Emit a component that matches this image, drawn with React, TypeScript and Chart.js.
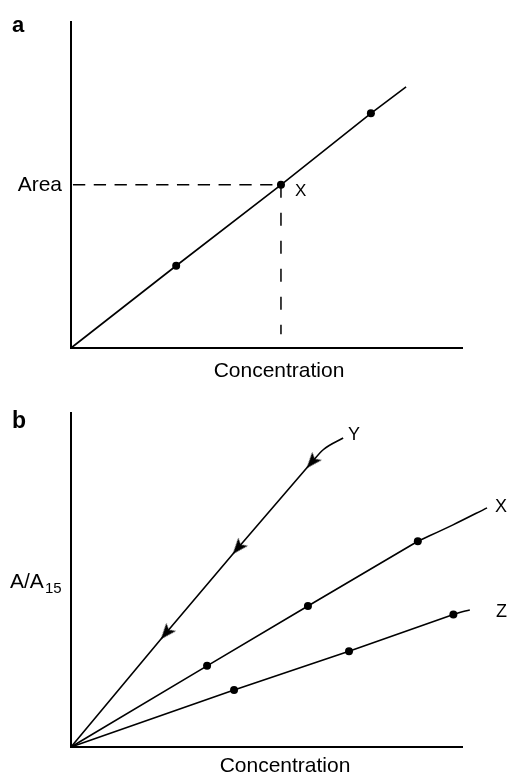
import React, { useEffect, useRef } from 'react';
import { Chart, registerables } from 'chart.js';

Chart.register(...registerables);

const FONT = "'Liberation Sans', Arial, Helvetica, sans-serif";

// ---------- Panel a: calibration line ----------
const calibConc = [0, 26.9, 53.7, 76.7, 85.7];
const calibArea = [0, 25.2, 50.0, 71.9, 80.0];
const calibHasDot = [false, true, true, true, false];
const sampleConc = 53.7;
const sampleArea = 50.0;
const sampleDashStart = 0.5;
const sampleDashFloor = 4.2;
const areaTickLabel = 'Area';
const sampleLabel = 'X';
const xAxisTitle = 'Concentration';

// ---------- Panel b: relative response lines ----------
const yLineConc = [0, 24.3, 42.7, 61.6];
const yLineResp = [0, 34.1, 59.6, 85.3];
const yTailConc = [61.6, 64.5, 69.6];
const yTailResp = [85.3, 89.0, 92.5];

const xLineConc = [0, 34.8, 60.6, 88.7];
const xLineResp = [0, 24.3, 42.2, 61.6];
const xTailConc = [88.7, 97.7, 106.4];
const xTailResp = [61.6, 66.5, 71.6];

const zLineConc = [0, 41.7, 71.1, 97.8];
const zLineResp = [0, 17.1, 28.7, 39.7];
const zTailConc = [97.8, 102.0, 106.1];
const zTailResp = [39.7, 41.0, 41.4];

const seriesNames = ['Y', 'X', 'Z'];
const yAxisMain = 'A/A';
const yAxisSub = '15';

const pts = (xs: number[], ys: number[]) => xs.map((x, i) => ({ x, y: ys[i] }));

type TextItem = {
  text: string;
  x: number | ((c: any) => number);
  y: number | ((c: any) => number);
  font: string;
  align?: CanvasTextAlign;
};

const textPlugin = (items: TextItem[]) => ({
  id: 'texts',
  afterDraw(chart: any) {
    const ctx = chart.ctx as CanvasRenderingContext2D;
    ctx.save();
    ctx.fillStyle = '#000';
    ctx.textBaseline = 'alphabetic';
    for (const it of items) {
      ctx.font = it.font;
      ctx.textAlign = it.align || 'left';
      const x = typeof it.x === 'function' ? it.x(chart) : it.x;
      const y = typeof it.y === 'function' ? it.y(chart) : it.y;
      ctx.fillText(it.text, x, y);
    }
    ctx.restore();
  },
});

const axisX = () => ({
  type: 'linear' as const,
  min: 0,
  max: 100,
  grid: { display: false, drawTicks: false },
  ticks: { display: false },
  border: { display: true, color: '#000', width: 2 },
  afterFit: (s: any) => {
    s.height = 0;
  },
});

const axisY = (tickValue?: number, tickLabel?: string) => ({
  type: 'linear' as const,
  min: 0,
  max: 100,
  grid: { display: false, drawTicks: false },
  ticks:
    tickValue === undefined
      ? { display: false }
      : {
          display: true,
          padding: 9,
          color: '#000',
          autoSkip: false,
          font: { family: FONT, size: 21 },
          callback: () => tickLabel,
        },
  afterBuildTicks: (s: any) => {
    if (tickValue !== undefined) s.ticks = [{ value: tickValue }];
  },
  border: { display: true, color: '#000', width: 2 },
  afterFit: (s: any) => {
    s.width = 71;
  },
});

// barbed arrowhead used as the point style for series Y (apex pointing up before rotation)
const makeArrowHead = () => {
  const c = document.createElement('canvas');
  c.width = 18;
  c.height = 18;
  const g = c.getContext('2d') as CanvasRenderingContext2D;
  g.fillStyle = '#000';
  g.beginPath();
  g.moveTo(9, 1);
  g.lineTo(15.2, 17);
  g.lineTo(9, 13.2);
  g.lineTo(2.8, 17);
  g.closePath();
  g.fill();
  return c;
};

const arrowRotation = (ctx: any) => {
  const chart = ctx.chart;
  const raw = ctx.raw;
  if (!raw || !chart.scales || !chart.scales.x) return 0;
  const sx = chart.scales.x;
  const sy = chart.scales.y;
  const dx = sx.getPixelForValue(0) - sx.getPixelForValue(raw.x);
  const dy = sy.getPixelForValue(0) - sy.getPixelForValue(raw.y);
  return (Math.atan2(dx, -dy) * 180) / Math.PI;
};

const baseOptions = (padding: any, scales: any) => ({
  responsive: false,
  animation: false as const,
  events: [] as any[],
  layout: { padding },
  plugins: { legend: { display: false }, tooltip: { enabled: false }, title: { display: false } },
  scales,
});

export default function App() {
  const refA = useRef<HTMLCanvasElement>(null);
  const refB = useRef<HTMLCanvasElement>(null);

  useEffect(() => {
    Chart.defaults.font.family = FONT;
    Chart.defaults.color = '#000';

    const chartA = new Chart(refA.current as HTMLCanvasElement, {
      type: 'line',
      data: {
        datasets: [
          {
            data: pts(calibConc, calibArea),
            borderColor: '#000',
            backgroundColor: '#000',
            borderWidth: 1.6,
            pointRadius: calibHasDot.map((d) => (d ? 4 : 0)),
            pointBorderWidth: 0,
            tension: 0,
            clip: false as any,
          },
          {
            data: [
              { x: sampleDashStart, y: sampleArea },
              { x: sampleConc, y: sampleArea },
            ],
            borderColor: '#000',
            borderWidth: 1.5,
            borderDash: [12.3, 8.5],
            pointRadius: 0,
            clip: false as any,
          },
          {
            data: [
              { x: sampleConc, y: sampleArea },
              { x: sampleConc, y: sampleDashFloor },
            ],
            borderColor: '#000',
            borderWidth: 1.5,
            borderDash: [13, 15],
            pointRadius: 0,
            clip: false as any,
          },
        ],
      },
      options: baseOptions(
        { left: 0, right: 46, top: 14, bottom: 42 },
        { x: axisX(), y: axisY(sampleArea, areaTickLabel) }
      ) as any,
      plugins: [
        textPlugin([
          { text: 'a', x: 12, y: 32, font: `bold 22px ${FONT}` },
          { text: xAxisTitle, x: 279, y: 377, font: `21px ${FONT}`, align: 'center' },
          {
            text: sampleLabel,
            x: (c) => c.scales.x.getPixelForValue(sampleConc) + 14,
            y: (c) => c.scales.y.getPixelForValue(sampleArea) + 11,
            font: `17px ${FONT}`,
          },
        ]),
      ],
    });

    const arrowHead = makeArrowHead();

    const lineDs = (xs: number[], ys: number[], style: 'circle' | 'arrow') => ({
      data: pts(xs, ys),
      borderColor: '#000',
      backgroundColor: '#000',
      borderWidth: 1.6,
      pointRadius: xs.map((_, i) => (i === 0 ? 0 : style === 'arrow' ? 9 : 4)),
      pointStyle: style === 'arrow' ? arrowHead : 'circle',
      pointRotation: style === 'arrow' ? arrowRotation : 0,
      pointBorderWidth: 0,
      tension: 0,
      clip: false as any,
    });
    const tailDs = (xs: number[], ys: number[]) => ({
      data: pts(xs, ys),
      borderColor: '#000',
      borderWidth: 1.6,
      pointRadius: 0,
      cubicInterpolationMode: 'monotone' as const,
      clip: false as any,
    });

    const chartB = new Chart(refB.current as HTMLCanvasElement, {
      type: 'line',
      data: {
        datasets: [
          lineDs(yLineConc, yLineResp, 'arrow'),
          tailDs(yTailConc, yTailResp),
          lineDs(xLineConc, xLineResp, 'circle'),
          tailDs(xTailConc, xTailResp),
          lineDs(zLineConc, zLineResp, 'circle'),
          tailDs(zTailConc, zTailResp),
        ] as any,
      },
      options: baseOptions(
        { left: 0, right: 46, top: 23, bottom: 27 },
        { x: axisX(), y: axisY() }
      ) as any,
      plugins: [
        textPlugin([
          { text: 'b', x: 12, y: 38, font: `bold 23px ${FONT}` },
          { text: xAxisTitle, x: 285, y: 382, font: `21px ${FONT}`, align: 'center' },
          { text: yAxisMain, x: 10, y: 198, font: `21px ${FONT}` },
          { text: yAxisSub, x: 45, y: 203, font: `15px ${FONT}` },
          { text: seriesNames[0], x: 348, y: 50, font: `18px ${FONT}` },
          { text: seriesNames[1], x: 495, y: 122, font: `18px ${FONT}` },
          { text: seriesNames[2], x: 496, y: 227, font: `18px ${FONT}` },
        ]),
      ],
    });

    return () => {
      chartA.destroy();
      chartB.destroy();
    };
  }, []);

  return (
    <div style={{ position: 'absolute', left: 0, top: 0, width: 508, height: 774, background: '#fff' }}>
      <canvas ref={refA} width={508} height={390} style={{ display: 'block', width: 508, height: 390 }} />
      <canvas ref={refB} width={508} height={384} style={{ display: 'block', width: 508, height: 384 }} />
    </div>
  );
}
